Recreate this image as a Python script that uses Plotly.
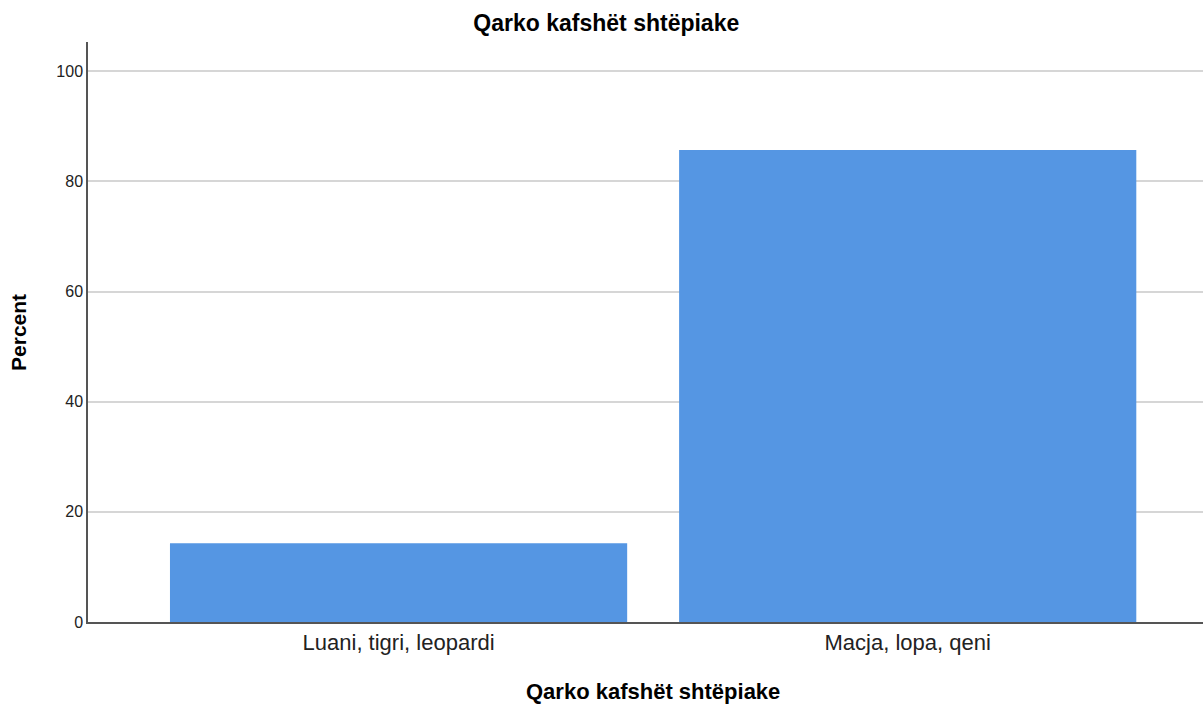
import plotly.graph_objects as go

categories = ["Luani, tigri, leopardi", "Macja, lopa, qeni"]
percent = [14.29, 85.71]
y_ticks = [0, 20, 40, 60, 80, 100]
title_text = "Qarko kafshët shtëpiake"
x_title = "Qarko kafshët shtëpiake"
y_title = "Percent"

FONT = "Liberation Sans, Arial, sans-serif"

fig = go.Figure()
fig.add_trace(go.Bar(
    x=categories, y=percent, width=0.898,
    marker=dict(color="#5596e3", line=dict(width=0)),
))

fig.update_layout(
    width=1203, height=704,
    margin=dict(l=88, r=0, t=42, b=82),
    paper_bgcolor="white", plot_bgcolor="white",
    showlegend=False,
    font=dict(family=FONT, color="#000000"),
    title=dict(text="<b>" + title_text + "</b>", x=0.504, xanchor="center", xref="container",
               y=0.967, yanchor="middle", yref="container", font=dict(size=23, color="#000000")),
    annotations=[
        dict(text="<b>" + x_title + "</b>", xref="paper", yref="paper", x=0.507, y=-0.119,
             xanchor="center", yanchor="middle", showarrow=False, font=dict(size=22, color="#000000")),
        dict(text="<b>" + y_title + "</b>", xref="paper", yref="paper", x=-0.0628, y=0.5,
             xanchor="center", yanchor="middle", textangle=-90, showarrow=False,
             font=dict(size=21, color="#000000")),
    ],
)
fig.update_xaxes(
    range=[-0.61, 1.58], showgrid=False, showline=True, linecolor="#555555", linewidth=1.5,
    ticks="", tickfont=dict(size=22, color="#222222"),
)
fig.update_yaxes(
    range=[0, 105.3], tickvals=y_ticks, showgrid=True, gridcolor="#d6d6d6", gridwidth=2,
    showline=True, linecolor="#555555", linewidth=1.5, ticks="", zeroline=False,
    tickfont=dict(size=16, color="#222222"),
)
fig.write_html("out.html", config={"displayModeBar": False},
               post_script="document.body.style.margin='0';document.body.style.overflow='hidden';")
